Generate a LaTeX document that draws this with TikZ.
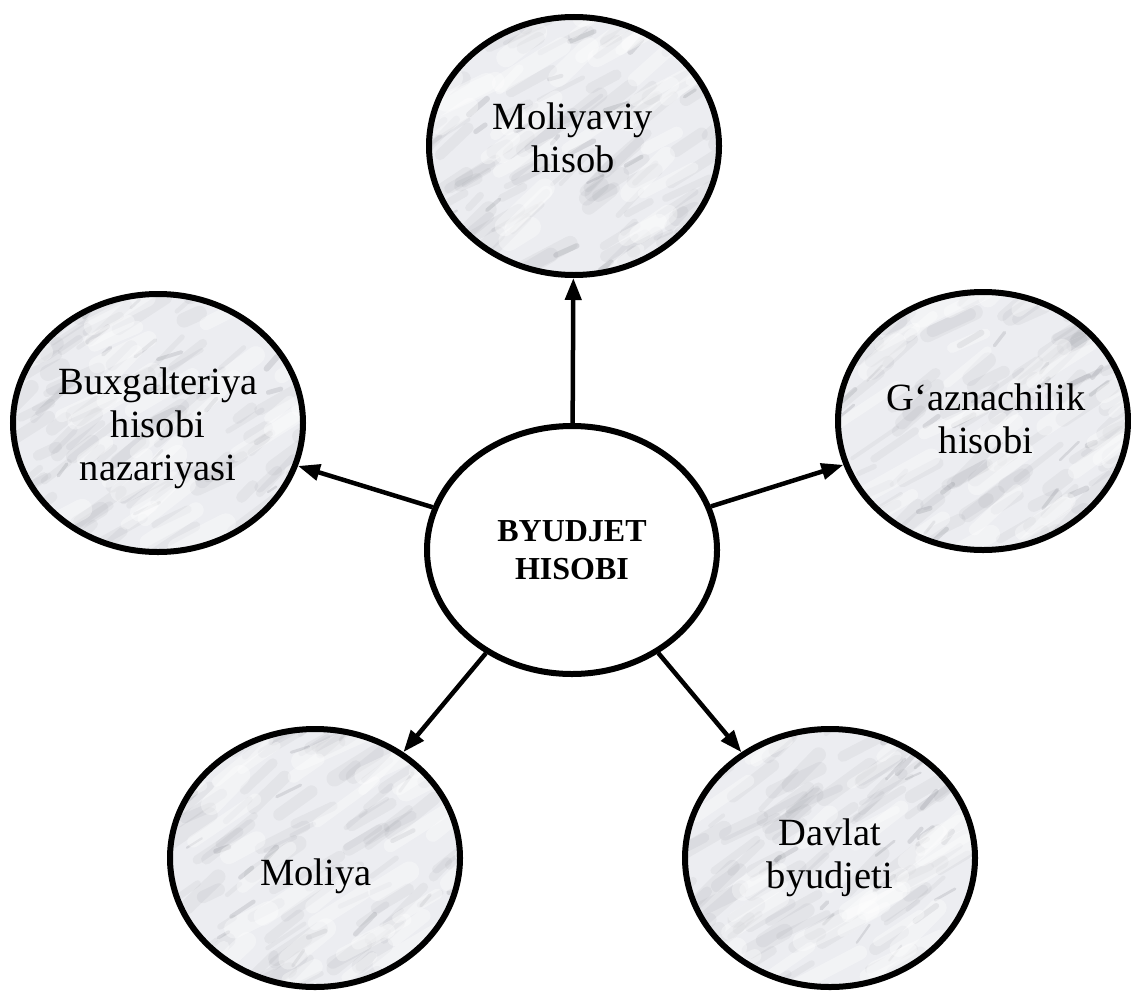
\documentclass[tikz,border=0pt]{standalone}
\usepackage{fontspec}
\setmainfont{Liberation Serif}
\usetikzlibrary{shapes.geometric,arrows.meta}
\definecolor{marblebase}{RGB}{236,237,241}
\definecolor{vein}{RGB}{110,112,120}
\tikzset{
  outerc/.style={ellipse, draw=black, line width=6pt, fill=marblebase,
    minimum width=290pt, minimum height=258pt, inner sep=0pt,
    path picture={
      \foreach \k in {1,...,110}{
        \pgfmathsetmacro{\px}{155*rand}
        \pgfmathsetmacro{\py}{135*rand}
        \pgfmathsetmacro{\len}{15+45*rnd}
        \pgfmathsetmacro{\wd}{4+12*rnd}
        \pgfmathsetmacro{\ang}{-35+12*rand}
        \draw[line width=\wd pt, vein, opacity=0.07, line cap=round]
          ([shift={(\px,\py)}]path picture bounding box.center) -- ++(\ang:\len);
      }
      \foreach \k in {1,...,25}{
        \pgfmathsetmacro{\px}{150*rand}
        \pgfmathsetmacro{\py}{130*rand}
        \pgfmathsetmacro{\len}{8+20*rnd}
        \pgfmathsetmacro{\wd}{2+4*rnd}
        \pgfmathsetmacro{\ang}{-35+20*rand}
        \draw[line width=\wd pt, vein, opacity=0.18, line cap=round]
          ([shift={(\px,\py)}]path picture bounding box.center) -- ++(\ang:\len);
      }
      \foreach \k in {1,...,40}{
        \pgfmathsetmacro{\px}{150*rand}
        \pgfmathsetmacro{\py}{130*rand}
        \pgfmathsetmacro{\len}{25+50*rnd}
        \pgfmathsetmacro{\wd}{8+14*rnd}
        \pgfmathsetmacro{\ang}{-35+12*rand}
        \draw[line width=\wd pt, white, opacity=0.35, line cap=round]
          ([shift={(\px,\py)}]path picture bounding box.center) -- ++(\ang:\len);
      }
    }},
  lbl/.style={align=center, inner sep=0pt, font=\fontsize{38.5}{43}\selectfont},
  centerc/.style={ellipse, draw=black, line width=6pt, fill=white,
    minimum width=290pt, minimum height=248pt, inner sep=0pt, align=center,
    font=\fontsize{32}{38}\selectfont\bfseries},
  conn/.style={line width=4.5pt, -{Triangle[length=22pt,width=16pt]}}
}
\begin{document}
\begin{tikzpicture}[x=1pt,y=-1pt]
\pgfmathsetseed{11}
\useasboundingbox (0,0) rectangle (1131,990);
\node[centerc] (c) at (572,550) {BYUDJET\\HISOBI};
\node[outerc] (top) at (574,146) {};
\node[outerc] (left) at (158,423) {};
\node[outerc] (right) at (983,421) {};
\node[outerc] (bl) at (315,858) {};
\node[outerc] (br) at (830,858) {};
\node[lbl] (topt) at (573,138) {Moliyaviy\\hisob};
\node[lbl] (leftt) at (158,428) {Buxgalteriya\\hisobi\\nazariyasi};
\node[lbl] (rightt) at (986,419) {G‘aznachilik\\hisobi};
\node[lbl] (blt) at (316,876) {Moliya};
\node[lbl] (brt) at (830,858) {Davlat\\byudjeti};
\draw[conn] (c) -- (top);
\draw[conn] (c) -- (left);
\draw[conn] (c) -- (right);
\draw[conn] (c) -- (bl);
\draw[conn] (c) -- (br);
\end{tikzpicture}
\end{document}
